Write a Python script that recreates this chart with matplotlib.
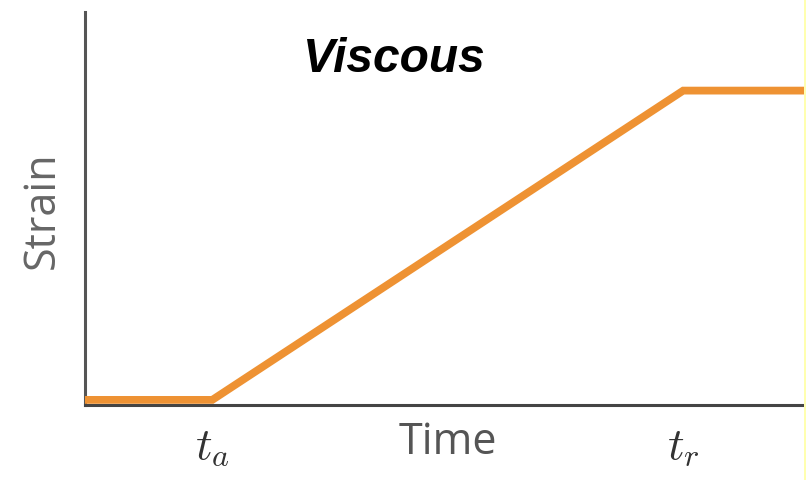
import matplotlib
matplotlib.use("Agg")
import matplotlib.pyplot as plt
from matplotlib.patches import Rectangle

# Data (axis units 0..10)
time = [0.0, 1.77, 8.32, 10.0]
strain = [0.13, 0.13, 8.0, 8.0]
tick_positions = [1.77, 8.32]
tick_labels = [r"$t_a$", r"$t_r$"]

plt.rcParams['mathtext.fontset'] = 'cm'

fig = plt.figure(figsize=(8.06, 4.8), dpi=100)
fig.patch.set_facecolor('white')
ax = fig.add_axes([85/806, 1-405/480, (804-85)/806, (405-12)/480])
ax.plot(time, strain, color='#EE9233', lw=5.6, solid_joinstyle='miter', solid_capstyle='butt', zorder=3)
ax.set_xlim(0, 10)
ax.set_ylim(0, 10)
for s in ['top', 'right']:
    ax.spines[s].set_visible(False)
ax.spines['left'].set_color('#555555')
ax.spines['bottom'].set_color('#444444')
ax.spines['left'].set_linewidth(2.2)
ax.spines['bottom'].set_linewidth(2.2)
ax.set_xticks(tick_positions)
ax.set_xticklabels(tick_labels, fontsize=33, color='#333333')
ax.tick_params(axis='x', length=0, pad=14)
ax.set_yticks([])

ax.text(0.43, 0.88, "Viscous", transform=ax.transAxes, ha='center', va='center',
        fontsize=34.5, fontweight='bold', fontstyle='italic', family='Liberation Sans', color='black')
fig.text(448/806, 1-443/480, "Time", ha='center', va='center', fontsize=31,
         family='Open Sans', color='#555555')
fig.text(42/806, 1-210/480, "Strain", ha='center', va='center', rotation=90, fontsize=31,
         family='Open Sans', color='#666666')

fig.patches.append(Rectangle((804/806, 0), 2/806, 1, transform=fig.transFigure,
                             facecolor='#FFFFB0', edgecolor='none', zorder=10))

fig.savefig("out.png", dpi=100)
